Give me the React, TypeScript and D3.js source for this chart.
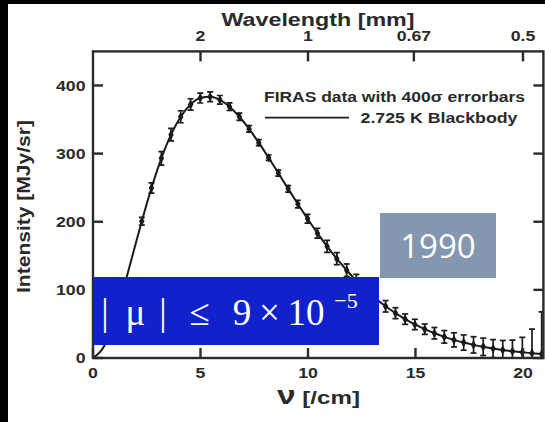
import React from "react";
import * as d3 from "d3";

// FIRAS monopole spectrum (frequency in /cm, intensity in MJy/sr, 1-sigma in kJy/sr)
const nu = [
  2.27, 2.72, 3.18, 3.63, 4.08, 4.54, 4.99, 5.45, 5.9, 6.35, 6.81, 7.26, 7.71,
  8.17, 8.62, 9.08, 9.53, 9.98, 10.44, 10.89, 11.34, 11.8, 12.25, 12.71, 13.16,
  13.61, 14.07, 14.52, 14.97, 15.43, 15.88, 16.34, 16.79, 17.24, 17.7, 18.15,
  18.61, 19.06, 19.51, 19.97, 20.42, 20.87, 21.33,
];
const intensity = [
  200.72, 249.51, 293.02, 327.77, 354.08, 372.08, 381.49, 383.48, 378.9,
  368.83, 354.06, 336.28, 316.08, 293.92, 271.43, 248.24, 225.94, 204.33,
  183.26, 163.83, 145.75, 128.84, 113.57, 99.45, 87.04, 75.88, 65.77, 57.01,
  49.22, 42.27, 36.35, 31.06, 26.58, 22.64, 19.26, 16.39, 13.81, 11.72, 9.92,
  8.36, 7.09, 5.8, 4.52,
];
const sigmaKJy = [
  14, 19, 25, 23, 22, 21, 18, 18, 16, 14, 13, 12, 11, 10, 11, 12, 14, 16, 18,
  22, 22, 23, 23, 23, 22, 21, 20, 19, 19, 19, 21, 23, 26, 28, 30, 32, 33, 35,
  41, 55, 88, 155, 282,
];
const errScale = 400;

// low-frequency part of the 2.725 K curve
const leadNu = [0, 0.5, 1, 1.5, 2];
const leadI = [0, 16.4, 57.1, 111, 169.5];

const bottomTicks = [0, 5, 10, 15, 20];
const leftTicks = [0, 100, 200, 300, 400];
const wavelengthTicks = [2, 1, 0.67, 0.5];
const wavelengthLabels = ["2", "1", "0.67", "0.5"];

const width = 545;
const height = 422;
const plot = { left: 93, top: 51.4, right: 543.4, bottom: 358 };

const sans = "'Liberation Sans', Arial, Helvetica, sans-serif";
const ink = "#1a1a1a";

const x = d3.scaleLinear().domain([0, 20.95]).range([plot.left, plot.right]);
const y = d3.scaleLinear().domain([0, 450]).range([plot.bottom, plot.top]);

const App = () => {
  const lineData: [number, number][] = leadNu
    .map((v, i) => [v, leadI[i]] as [number, number])
    .concat(nu.map((v, i) => [v, intensity[i]] as [number, number]));

  const line = d3
    .line<[number, number]>()
    .x((d) => x(d[0]))
    .y((d) => y(d[1]))
    .curve(d3.curveMonotoneX);

  const diamond = d3.symbol().type(d3.symbolDiamond).size(26)();
  const tickLen = 10;

  return (
    <svg
      width={width}
      height={height}
      style={{ position: "absolute", left: 0, top: 0, background: "#fff" }}
    >
      <defs>
        <clipPath id="plotClip">
          <rect
            x={plot.left}
            y={plot.top}
            width={plot.right - plot.left}
            height={plot.bottom - plot.top}
          />
        </clipPath>
      </defs>

      {/* black slide edges */}
      <rect x={0} y={0} width={8} height={height} fill="#000" />
      <rect x={0} y={0} width={width} height={4} fill="#000" />

      {/* blackbody curve + data */}
      <g clipPath="url(#plotClip)">
        <path d={line(lineData) ?? ""} fill="none" stroke={ink} strokeWidth={2} />
        {nu.map((v, i) => {
          const e = (sigmaKJy[i] * errScale) / 1000;
          const cx = x(v);
          const y1 = y(intensity[i] + e);
          const y0 = y(Math.max(0, intensity[i] - e));
          return (
            <g key={v} stroke={ink} strokeWidth={1.7}>
              <line x1={cx} x2={cx} y1={y0} y2={y1} />
              <line x1={cx - 3} x2={cx + 3} y1={y1} y2={y1} />
              <line x1={cx - 3} x2={cx + 3} y1={y0} y2={y0} />
              <path
                d={diamond ?? ""}
                transform={`translate(${cx},${y(intensity[i])})`}
                fill={ink}
                stroke="none"
              />
            </g>
          );
        })}
      </g>

      {/* frame */}
      <rect
        x={plot.left}
        y={plot.top}
        width={plot.right - plot.left}
        height={plot.bottom - plot.top}
        fill="none"
        stroke="#2a2a2a"
        strokeWidth={2.4}
      />

      {/* bottom + top ticks */}
      <g stroke="#2a2a2a" strokeWidth={2.4}>
        {bottomTicks.map((t) => (
          <line key={"b" + t} x1={x(t)} x2={x(t)} y1={plot.bottom} y2={plot.bottom - tickLen} />
        ))}
        {wavelengthTicks.map((w) => (
          <line key={"t" + w} x1={x(10 / w)} x2={x(10 / w)} y1={plot.top} y2={plot.top + tickLen} />
        ))}
        {leftTicks.map((t) => (
          <line key={"l" + t} x1={plot.left} x2={plot.left + tickLen} y1={y(t)} y2={y(t)} />
        ))}
        {leftTicks.map((t) => (
          <line key={"r" + t} x1={plot.right} x2={plot.right - tickLen} y1={y(t)} y2={y(t)} />
        ))}
      </g>

      {/* tick labels */}
      <g fontFamily={sans} fontWeight="bold" fontSize={14.5} fill="#2a2a2a">
        {bottomTicks.map((t) => (
          <text key={"bl" + t} transform={`translate(${x(t)},378) scale(1.22,1)`} textAnchor="middle">
            {t}
          </text>
        ))}
        {wavelengthTicks.map((w, i) => (
          <text key={"tl" + w} transform={`translate(${x(10 / w)},41) scale(1.22,1)`} textAnchor="middle">
            {wavelengthLabels[i]}
          </text>
        ))}
        {leftTicks.map((t) => (
          <text key={"ll" + t} transform={`translate(85.5,${y(t) + 5.3}) scale(1.22,1)`} textAnchor="end">
            {t}
          </text>
        ))}
      </g>

      {/* axis titles */}
      <g fontFamily={sans} fontWeight="bold" fill="#2a2a2a">
        <text x={318} y={25.5} fontSize={18} textAnchor="middle" textLength={193} lengthAdjust="spacingAndGlyphs">
          Wavelength [mm]
        </text>
        <text
          transform="translate(30,206.5) rotate(-90)"
          fontSize={18}
          textAnchor="middle"
          textLength={173}
          lengthAdjust="spacingAndGlyphs"
        >
          Intensity [MJy/sr]
        </text>
        <text x={318.5} y={404} fontSize={18} textAnchor="middle" textLength={83} lengthAdjust="spacingAndGlyphs">
          <tspan fontSize={25}>ν</tspan> [/cm]
        </text>
      </g>

      {/* legend */}
      <g fontFamily={sans} fontWeight="bold" fontSize={14} fill="#2a2a2a">
        <text x={264} y={102.3} textLength={261} lengthAdjust="spacingAndGlyphs">
          FIRAS data with 400σ errorbars
        </text>
        <line x1={265} x2={349} y1={117.7} y2={117.7} stroke={ink} strokeWidth={1.8} />
        <text x={360.5} y={122.6} textLength={157} lengthAdjust="spacingAndGlyphs">
          2.725 K Blackbody
        </text>
      </g>

      {/* slide overlays */}
      <rect x={93} y={277} width={286} height={68} fill="#1122cc" />
      <g fontFamily="'Liberation Serif', 'Times New Roman', serif" fill="#fff" fontSize={37} textAnchor="middle">
        <text x={105} y={325}>|</text>
        <text x={135.5} y={325}>μ</text>
        <text x={163} y={325}>|</text>
        <text x={199.5} y={325}>≤</text>
        <text x={242} y={325}>9</text>
        <text x={269.5} y={325}>×</text>
        <text x={306} y={325}>10</text>
        <text x={346} y={308} fontSize={22}>−5</text>
      </g>

      <rect x={380} y={213} width={116} height={65} fill="#8497b0" />
      <text x={438} y={258} fontFamily="'Open Sans', 'Noto Sans', sans-serif" fontSize={33} fill="#fff" textAnchor="middle">
        1990
      </text>
    </svg>
  );
};

export default App;
